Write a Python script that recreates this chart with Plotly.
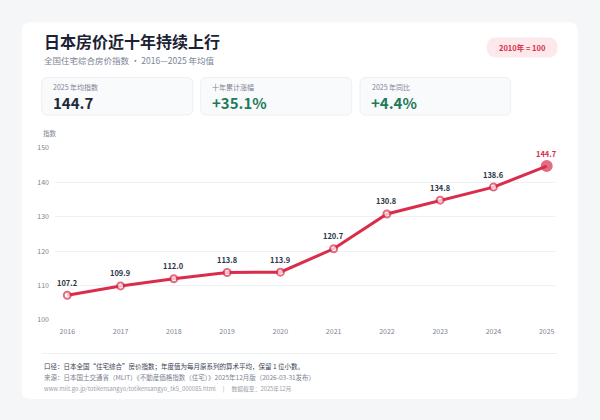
import plotly.graph_objects as go

# data
years = [2016, 2017, 2018, 2019, 2020, 2021, 2022, 2023, 2024, 2025]
index_values = [107.2, 109.9, 112.0, 113.8, 113.9, 120.7, 130.8, 134.8, 138.6, 144.7]
y_ticks = [100, 110, 120, 130, 140, 150]

kpi_labels = ["2025 年均指数", "十年累计涨幅", "2025 年同比"]
kpi_values = ["144.7", "+35.1%", "+4.4%"]
kpi_colors = ["#1f2937", "#1d7a5a", "#1d7a5a"]

title = "日本房价近十年持续上行"
subtitle = "全国住宅综合房价指数 · 2016—2025 年均值"
badge = "2010年 = 100"
notes = [
    "口径：日本全国“住宅综合”房价指数；年度值为每月原系列的算术平均，保留 1 位小数。",
    "来源：日本国土交通省（MLIT）《不動産価格指数（住宅）》2025年12月版（2026-03-31发布）",
    "www.mlit.go.jp/totikensangyo/totikensangyo_tk5_000085.html　 |　 数据截至：2025年12月",
]

W, H = 600, 420
RED = "#d92d4b"
BG = "#f5f6f8"
FONT = "Noto Sans CJK SC"


def px(x, y):
    return x / W, 1 - y / H


def rrect(x0, y0, x1, y1, r):
    # rounded rectangle in pixel coords (top-left origin) -> paper path
    pts = [
        ("M", [(x0 + r, y0)]),
        ("L", [(x1 - r, y0)]),
        ("Q", [(x1, y0), (x1, y0 + r)]),
        ("L", [(x1, y1 - r)]),
        ("Q", [(x1, y1), (x1 - r, y1)]),
        ("L", [(x0 + r, y1)]),
        ("Q", [(x0, y1), (x0, y1 - r)]),
        ("L", [(x0, y0 + r)]),
        ("Q", [(x0, y0), (x0 + r, y0)]),
    ]
    out = ""
    for cmd, ps in pts:
        out += cmd + " ".join("%.5f,%.5f" % px(a, b) for a, b in ps) + " "
    return out + "Z"


def text(x, y, s, size, color, bold=False, xanchor="left"):
    return dict(x=x / W, y=1 - y / H, xref="paper", yref="paper", text=("<b>%s</b>" % s) if bold else s,
                showarrow=False, xanchor=xanchor, yanchor="middle",
                font=dict(family=FONT, size=size, color=color))


fig = go.Figure()
fig.add_trace(go.Scatter(
    x=years, y=index_values, mode="lines+markers",
    line=dict(color=RED, width=3),
    marker=dict(color=["white"] * (len(years) - 1) + [RED],
                size=[7] * (len(years) - 1) + [10],
                line=dict(color=RED, width=2)),
    hoverinfo="skip", showlegend=False,
))

shapes = [
    dict(type="path", path=rrect(21.7, 16.7, 578, 402.7, 9), xref="paper", yref="paper",
         fillcolor="white", line=dict(width=0), layer="below"),
    dict(type="path", path=rrect(486.7, 32.3, 557.7, 52.7, 10), xref="paper", yref="paper",
         fillcolor="#fde8ec", line=dict(width=0), layer="below"),
    dict(type="line", x0=42 / W, x1=557 / W, y0=1 - 356 / H, y1=1 - 356 / H, xref="paper", yref="paper",
         line=dict(color="#edf0f3", width=1)),
]
card_x = [(41.7, 192.7), (200.7, 351.7), (360, 510.7)]
for (x0, x1) in card_x:
    shapes.append(dict(type="path", path=rrect(x0, 73.3, x1, 111.7, 6), xref="paper", yref="paper",
                       fillcolor="#f9fafc", line=dict(color="#eceff3", width=1), layer="below"))

ann = [
    text(42, 36, title, 16, "#1a2233", bold=True),
    text(42, 55.5, subtitle, 8.5, "#7b8494"),
    text(522.2, 42.5, badge, 7.5, RED, bold=True, xanchor="center"),
    text(41, 130.5, "指数", 6.5, "#7b8494"),
    text(42, 368.3, notes[0], 6.5, "#374151"),
    text(42, 380, notes[1], 6.5, "#7b8494"),
    text(42, 391.7, notes[2], 5.8, "#9aa1ad"),
]
for i, (x0, x1) in enumerate(card_x):
    ann.append(text(x0 + 9.5, 83, kpi_labels[i], 7, "#7b8494"))
    ann.append(text(x0 + 9, 98.5, kpi_values[i], 15, kpi_colors[i], bold=True))
for i, (yr, v) in enumerate(zip(years, index_values)):
    last = i == len(years) - 1
    ann.append(dict(x=yr, y=v, xref="x", yref="y", text="<b>%.1f</b>" % v, showarrow=False,
                    yshift=13, xanchor="center", yanchor="middle",
                    font=dict(family=FONT, size=7.5, color=RED if last else "#2d3748")))

step = (546.7 - 67.3) / 9
fig.update_layout(
    width=W, height=H, margin=dict(l=0, r=0, t=0, b=0),
    paper_bgcolor=BG, plot_bgcolor="rgba(0,0,0,0)",
    font=dict(family=FONT),
    shapes=shapes, annotations=ann,
    xaxis=dict(domain=[55 / W, 555 / W], range=[2016 - (67.3 - 55) / step, 2025 + (555 - 546.7) / step],
               tickmode="array", tickvals=years, ticktext=[str(y) for y in years],
               showgrid=False, zeroline=False, showline=False, ticks="",
               tickfont=dict(size=7, color="#7b8494"), ticklabelstandoff=6),
    yaxis=dict(domain=[1 - 321.7 / H, 1 - 145.3 / H], range=[100, 150],
               tickmode="array", tickvals=y_ticks,
               showgrid=True, gridcolor="#eef0f3", gridwidth=1, zeroline=False, showline=False, ticks="",
               tickfont=dict(size=7, color="#7b8494"), ticklabelstandoff=5),
)

# drop the default body margin so the figure fills the window
fig.write_html("out.html", config={"displayModeBar": False},
               post_script="document.body.style.margin='0';document.body.style.overflow='hidden';"
                           "document.body.style.background='%s';" % BG)
